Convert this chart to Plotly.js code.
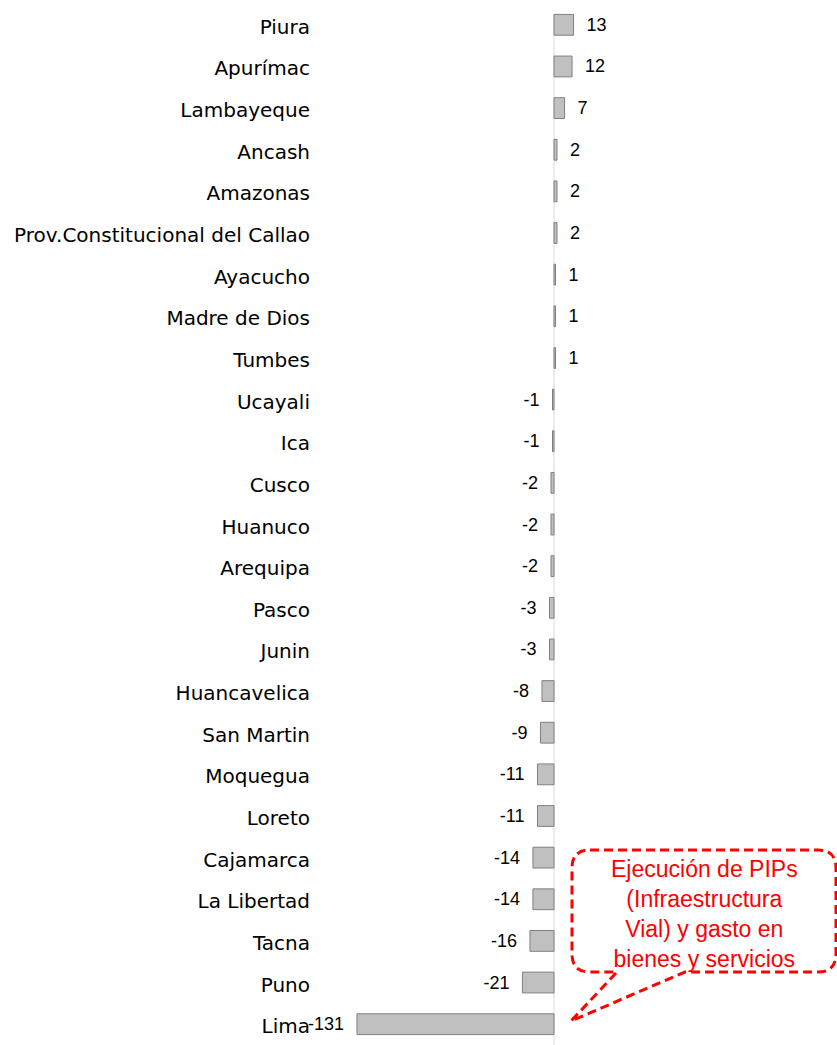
<!DOCTYPE html>
<html>
<head>
<meta charset="utf-8">
<script src="https://cdn.plot.ly/plotly-3.0.1.min.js"></script>
<style>html,body{margin:0;padding:0;background:#fff;}#chart{width:837px;height:1045px;}</style>
</head>
<body>
<div id="chart"></div>
<script>
const categories = ['Piura','Apurímac','Lambayeque','Ancash','Amazonas','Prov.Constitucional del Callao','Ayacucho','Madre de Dios','Tumbes','Ucayali','Ica','Cusco','Huanuco','Arequipa','Pasco','Junin','Huancavelica','San Martin','Moquegua','Loreto','Cajamarca','La Libertad','Tacna','Puno','Lima'];
const values = [13,12,7,2,2,2,1,1,1,-1,-1,-2,-2,-2,-3,-3,-8,-9,-11,-11,-14,-14,-16,-21,-131];
const calloutLines = ['Ejecución de PIPs','(Infraestructura','Vial) y gasto en','bienes y servicios'];

const W = 837, H = 1045;
const M = {l: 314, r: 0, t: 4, b: 0};
const pw = W - M.l - M.r, ph = H - M.t - M.b;
const fx = px => (px - M.l) / pw;
const fy = py => 1 - (py - M.t) / ph;
const P = (x, y) => fx(x).toFixed(5) + ',' + fy(y).toFixed(5);

const NB = '\u00a0\u00a0';
const labels = values.map(v => v >= 0 ? NB + v : v + NB);

const trace = {
  type: 'bar',
  orientation: 'h',
  y: categories,
  x: values,
  text: labels,
  textposition: 'outside',
  constraintext: 'none',
  cliponaxis: false,
  textfont: {family: 'Liberation Sans, Arial, sans-serif', size: 18, color: '#000'},
  marker: {color: '#c0c0c0', line: {color: '#808080', width: 1}},
  hoverinfo: 'none'
};

const calloutPath = 'M' + P(590,850) + ' L' + P(818,850) + ' Q' + P(836,850) + ' ' + P(836,868) +
  ' L' + P(836,954) + ' Q' + P(836,972) + ' ' + P(818,972) + ' L' + P(685,972) + ' L' + P(571,1021) +
  ' L' + P(617,972) + ' L' + P(590,972) + ' Q' + P(572,972) + ' ' + P(572,954) + ' L' + P(572,868) +
  ' Q' + P(572,850) + ' ' + P(590,850) + ' Z';

const layout = {
  width: W, height: H,
  margin: M,
  paper_bgcolor: '#fff', plot_bgcolor: '#fff',
  showlegend: false,
  bargap: 0.5,
  xaxis: {
    range: [(M.l - 554) / 1.504, (W - M.r - 554) / 1.504],
    showgrid: false, zeroline: false, showticklabels: false, ticks: '', showline: false
  },
  yaxis: {
    type: 'category',
    autorange: 'reversed',
    showgrid: false, zeroline: false, showline: false, ticks: '',
    ticklabelstandoff: 3,
    ticklabelshift: -2,
    tickfont: {family: 'DejaVu Sans, sans-serif', size: 20, color: '#000'}
  },
  shapes: [
    {type: 'line', xref: 'x', yref: 'paper', x0: 0, x1: 0, y0: 0, y1: fy(14),
     line: {color: '#d9d9d9', width: 1}, layer: 'below'},
    {type: 'path', xref: 'paper', yref: 'paper', path: calloutPath,
     line: {color: '#ff0000', width: 3, dash: '9px,5px'}, fillcolor: 'rgba(255,255,255,0)'}
  ],
  annotations: [
    {xref: 'paper', yref: 'paper', x: fx(704), y: fy(913.5), xanchor: 'center', yanchor: 'middle',
     showarrow: false, align: 'center', text: calloutLines.join('<br>'),
     font: {family: 'Liberation Sans, Arial, sans-serif', size: 23, color: '#ff0000'}}
  ]
};

Plotly.newPlot('chart', [trace], layout, {staticPlot: true, displayModeBar: false});
</script>
</body>
</html>
